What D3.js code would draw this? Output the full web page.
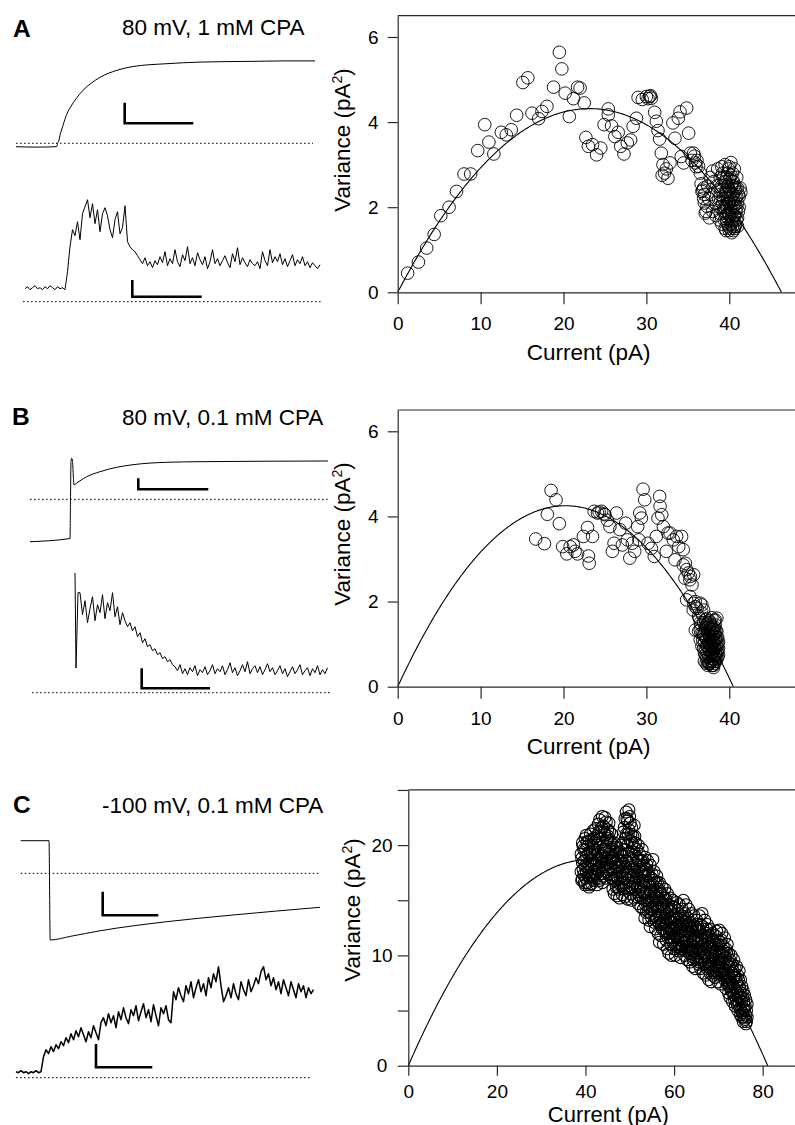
<!DOCTYPE html>
<html><head><meta charset="utf-8">
<script src="https://cdn.jsdelivr.net/npm/d3@7"></script>
<style>body{margin:0;background:#fff}svg{display:block}</style>
</head><body>
<svg id="fig" width="795" height="1125"></svg>
<script>
// ================= DATA =================
const panelLetters = ["A", "B", "C"];
const panelTitles = ["80 mV, 1 mM CPA", "80 mV, 0.1 mM CPA", "-100 mV, 0.1 mM CPA"];
const xTitle = "Current (pA)";
const yTitleMain = "Variance (pA";
const xTicksAB = [0, 10, 20, 30, 40];
const yTicksAB = [0, 2, 4, 6];
const xTicksC = [0, 20, 40, 60, 80];
const yTicksC = [0, 5, 10, 15, 20, 25];
const yTickLabelsC = [0, 10, 20];

// parabolic fits: variance = i*I - I^2/N
const fitA = { i: 0.373, N: 124.1 };
const fitB = { i: 0.420, N: 96.4 };
const fitC = { i: 0.920, N: 88.2 };

// scatter points [current pA, variance pA^2]
const pointsA = [
 [1.2,0.45],[2.5,0.71],[3.5,1.04],[4.4,1.36],[5.2,1.80],[6.2,2.0],[7.1,2.37],[8.0,2.78],[8.8,2.78],[9.65,3.33],
 [10.5,3.94],[11.0,3.53],[11.6,3.25],[12.5,3.76],[13.1,3.70],[13.7,3.82],[14.35,4.16],[15.1,4.93],[15.7,5.04],[16.2,4.21],
 [17.0,4.08],[17.4,4.25],[18.0,4.37],[18.8,4.82],[19.5,5.64],[19.8,5.25],[20.2,4.68],[20.7,4.13],[21.2,4.55],[21.7,4.82],
 [22.0,4.80],[22.5,4.45],[22.7,3.64],[23.0,3.43],[23.5,3.47],[24.0,3.23],[24.5,3.39],[24.9,3.94],[25.4,4.31],[25.4,4.17],
 [25.8,3.91],[26.2,3.66],[26.6,3.76],[26.9,3.43],[27.3,3.25],[27.7,3.51],[28.1,3.58],[28.4,3.90],[28.8,4.09],[29.0,4.58],
 [29.5,4.53],[30.0,4.60],[30.2,4.55],[30.4,4.60],[30.5,4.62],[30.6,4.56],[31.0,4.23],[31.2,4.02],[31.4,3.80],[31.6,3.60],
 [31.8,3.27],[32.0,3.0],[31.9,2.75],[32.2,2.8],[32.4,2.9],[32.6,2.68],[32.85,3.04],[33.2,3.98],[33.45,3.62],[33.85,4.09],
 [34.06,4.24],[34.86,4.33],[35.1,3.74],[34.2,3.19],[34.5,3.04],[35.3,3.27],[35.5,3.1],[35.7,3.27],[35.8,3.2],[35.9,3.04],
 [36.0,2.95],[36.1,3.1],[36.3,2.96],[36.5,2.80],[36.6,2.55],[36.7,2.37],[36.9,2.45],[36.9,2.21],[37.0,2.3],[37.1,1.86],
 [37.3,2.02],[36.8,2.4],[37.0,2.1],[37.2,1.9],[37.4,2.5],[37.5,2.2],[37.6,1.75],[37.7,2.7],[38.0,2.85],
 [37.8,2.3],[38.0,1.9],[38.1,2.6],[38.3,2.1],[38.4,1.8],[38.5,2.5],[38.6,2.9],[38.7,2.2],[38.8,1.7],[38.9,2.7],
 [39.0,2.0],[39.0,2.4],[39.1,1.6],[39.2,2.8],[39.3,2.2],[39.3,1.9],[39.4,2.6],[39.5,1.5],[39.5,3.0],[39.6,2.3],
 [39.6,1.8],[39.7,2.7],[39.7,2.0],[39.8,1.6],[39.8,2.5],[39.9,2.9],[39.9,2.1],[40.0,1.45],[40.0,2.4],[40.0,1.8],
 [40.1,2.7],[40.1,2.2],[40.2,1.6],[40.2,3.05],[40.2,2.0],[40.3,2.5],[40.3,1.4],[40.4,2.8],[40.4,1.9],[40.4,2.3],
 [40.5,1.7],[40.5,2.6],[40.6,2.1],[40.6,1.5],[40.6,2.9],[40.7,2.4],[40.7,1.8],[40.8,2.2],[40.8,1.6],[40.9,2.7],
 [40.9,2.0],[41.0,2.45],[41.0,1.75],[41.1,2.3],[41.2,2.0],[41.3,2.45],[41.4,2.35],[39.4,1.7],[39.9,1.55],[40.3,1.65],
 [39.1,2.5],[39.2,2.1],[39.3,2.7],[39.4,2.0],[39.5,2.35],[39.5,1.9],[39.6,2.6],[39.6,2.05],[39.7,1.65],[39.7,2.4],
 [39.8,2.2],[39.8,2.8],[39.9,1.85],[39.9,2.45],[40.0,2.1],[40.0,2.65],[40.1,1.95],[40.1,1.5],[40.2,2.35],[40.2,2.75],
 [40.3,1.85],[40.3,2.15],[40.4,1.55],[40.4,2.6],[40.5,2.0],[40.5,2.3],[40.6,1.8],[40.6,2.5],[40.7,2.05],[40.7,1.55],
 [40.8,2.45],[40.8,1.9],[40.9,2.25],[40.9,1.7],[41.0,2.1],[41.0,1.55],[41.1,1.9],[41.2,2.25],[38.9,2.3],[38.8,2.0],
 [38.6,2.4],[38.9,1.85],[39.1,2.95],[40.0,2.95],[39.6,1.45],[40.5,1.45]
];

const pointsB = [
 [16.65,3.47],[17.7,3.36],[18.05,4.05],[18.5,4.61],[19.1,4.39],[19.5,3.83],[19.9,3.29],[20.4,3.12],[20.8,3.29],[21.2,3.33],
 [21.4,3.18],[21.7,3.12],[22.4,3.53],[22.9,3.74],[23.0,3.07],[23.1,2.90],[23.5,3.53],[23.7,4.12],[24.1,4.08],[24.3,4.1],
 [24.6,4.12],[24.9,4.06],[25.0,4.04],[25.3,3.91],[25.6,3.76],[25.9,3.18],[26.1,3.37],[26.4,4.08],[26.8,3.69],[27.1,3.33],
 [27.5,3.84],[27.7,3.45],[28.0,3.02],[28.3,3.37],[28.6,3.18],[28.95,3.76],[29.1,3.45],[29.2,4.08],[29.4,3.96],[29.6,4.64],
 [29.8,4.39],[30.2,3.37],[30.6,3.25],[30.95,3.06],[31.2,3.53],[31.4,3.96],[31.6,4.47],[31.65,4.24],[31.85,4.04],[32.05,3.76],
 [32.4,3.18],[32.6,3.61],[32.85,3.61],[33.25,3.45],[33.45,2.98],[33.65,3.53],[33.9,3.29],[34.25,3.53],[34.45,3.22],[34.7,2.90],
 [34.85,2.75],[35.05,2.67],[35.25,2.51],[35.5,2.39],[35.7,2.63],[34.45,2.86],[34.65,2.55],[35.3,2.59],[34.85,2.04],[35.25,2.12],
 [35.7,1.96],[35.9,1.88],[36.1,1.84],[36.3,1.65],[36.5,1.96],[35.9,1.33],[36.7,1.73],[36.9,1.80],[37.1,1.57],[38.3,1.57],
 [35.9,2.0],[36.7,1.92],[35.65,1.80],[38.5,1.61],[36.5,1.33],
 [36.3,1.3],[36.5,1.1],[36.6,1.45],[36.7,0.95],[36.8,1.25],[36.9,1.5],[37.0,1.05],[37.0,0.8],[37.1,1.35],[37.2,1.15],
 [37.2,0.7],[37.3,1.45],[37.3,0.95],[37.4,1.25],[37.4,0.6],[37.5,1.05],[37.5,1.4],[37.6,0.85],[37.6,1.2],[37.7,0.55],
 [37.7,1.0],[37.7,1.5],[37.8,0.75],[37.8,1.3],[37.8,1.1],[37.9,0.6],[37.9,0.95],[37.9,1.4],[38.0,0.5],[38.0,1.2],
 [38.0,0.8],[38.1,1.05],[38.1,0.65],[38.1,1.35],[38.2,0.9],[38.2,0.55],[38.2,1.25],[38.3,0.75],[38.3,1.1],[38.3,1.45],
 [38.4,0.6],[38.4,0.95],[38.4,1.3],[38.5,0.8],[38.5,1.15],[38.6,0.7],[38.6,1.0],[38.7,0.9],[36.9,0.9],[37.1,0.75],
 [37.4,0.5],[37.6,0.55],[37.3,1.6],[37.9,1.62],[38.1,0.45],
 [36.8,1.1],[37.0,1.25],[37.1,0.9],[37.2,1.4],[37.3,0.8],[37.3,1.1],[37.4,0.95],[37.5,0.7],[37.5,1.25],[37.6,1.0],
 [37.6,1.35],[37.7,0.85],[37.7,1.2],[37.8,0.6],[37.8,0.95],[37.8,1.45],[37.9,0.8],[37.9,1.15],[38.0,0.65],[38.0,1.0],
 [38.0,1.35],[38.1,0.85],[38.1,1.2],[38.2,0.7],[38.2,1.05],[38.2,1.4],[38.3,0.6],[38.3,0.9],[38.3,1.25],[38.4,0.75],
 [38.4,1.1],[38.5,0.65],[38.5,0.95],[38.5,1.3],[38.6,0.85],[38.6,1.15],[38.7,0.75],[38.7,1.05],[37.0,0.6],[37.2,0.55],
 [37.5,0.55],[37.9,0.5],[38.1,0.5],[37.4,1.5],[37.6,1.55],[38.2,1.55],[36.9,1.2],[36.6,1.25],[36.5,1.5],[36.4,1.6]
];

// panel C: [current, [variances...]]
const pointsC = [
 [39.0,[17.6,19.2]],[39.3,[18.4,20.2,16.9]],[39.6,[19.6,17.3]],[39.9,[20.6,18.1,16.4]],[40.2,[19.0,17.5,20.9]],
 [40.5,[18.3,16.6,19.9]],[40.8,[20.4,17.9,16.2]],[41.1,[19.3,21.0,17.0]],[41.4,[18.6,16.5,20.1]],[41.7,[19.8,17.6,21.3]],
 [42.0,[18.2,16.8,20.6]],[42.3,[21.5,19.1,17.3]],[42.6,[20.0,16.4,18.6]],[42.9,[21.9,19.4,17.8]],[43.2,[22.3,20.6,18.0,16.8]],
 [43.5,[21.2,19.0,17.4]],[43.8,[22.6,20.3,18.5,16.6]],[44.1,[21.7,19.6,17.2]],[44.4,[22.5,20.9,18.8]],[44.7,[22.1,19.9,17.6]],
 [45.0,[21.4,18.4,20.6]],[45.3,[22.0,19.2,17.4]],[45.6,[20.4,18.0]],[45.9,[21.0,19.1,17.3]],[46.2,[19.6,17.8,16.0]],
 [46.5,[20.2,18.4,15.6]],[46.8,[19.4,16.8,18.0]],[47.1,[17.2,19.8,15.4]],[47.4,[18.6,16.2]],[47.7,[19.3,17.5,15.2]],
 [48.0,[18.1,16.4,20.0]],[48.3,[19.0,15.5,17.2]],[48.6,[21.2,18.3,16.0]],[48.9,[22.4,19.6,17.0,15.3]],[49.2,[23.0,21.0,18.6,16.2]],
 [49.5,[22.2,20.0,17.6,15.1]],[49.8,[23.2,21.4,19.2,16.8]],[50.1,[22.0,20.4,18.0,15.6]],[50.4,[21.6,19.4,17.3,15.0]],[50.7,[20.8,18.6,16.4]],
 [51.0,[21.8,19.8,17.8,15.2]],[51.3,[20.2,18.2,16.0]],[51.6,[19.6,17.4,15.3]],[51.9,[20.0,18.6,16.6,14.7]],[52.2,[19.2,17.0,15.4]],
 [52.5,[18.6,16.2,14.4]],[52.8,[19.6,17.6,15.8]],[53.1,[18.2,16.4,14.2]],[53.4,[18.9,17.2,15.0,13.4]],[53.7,[17.8,15.8,13.9]],
 [54.0,[18.6,16.6,14.6]],[54.3,[17.4,15.4,13.2]],[54.6,[18.2,16.2,14.2,12.6]],[54.9,[17.0,15.0,13.4]],[55.2,[18.7,16.4,14.4]],
 [55.5,[17.6,15.6,13.0]],[55.8,[16.6,14.6,12.4]],[56.1,[17.2,15.2,13.4]],[56.4,[16.0,14.0,12.0]],[56.7,[16.6,14.8,12.8,11.2]],
 [57.0,[15.6,13.6,11.8]],[57.3,[16.2,14.4,12.4]],[57.6,[15.2,13.2,11.0]],[57.9,[16.0,14.0,12.2]],[58.2,[15.0,13.0,11.4]],
 [58.5,[15.6,13.8,12.0,10.6]],[58.8,[14.6,12.6,10.2]],[59.1,[15.2,13.4,11.6]],[59.4,[14.2,12.2,10.0]],[59.7,[15.0,13.0,11.2]],
 [60.0,[14.4,12.4,10.6]],[60.3,[13.6,11.8,10.0]],[60.6,[14.8,12.8,11.0]],[60.9,[13.8,12.0,10.4]],[61.2,[14.6,12.6,10.8]],
 [61.5,[13.4,11.4,9.8]],[61.8,[14.2,12.2,10.6]],[62.1,[15.0,13.0,11.2]],[62.4,[13.8,11.8,10.0]],[62.7,[14.6,12.6,10.8]],
 [63.0,[13.4,11.4,9.6]],[63.3,[14.2,12.2,10.4]],[63.6,[13.0,11.0,9.4]],[63.9,[13.8,11.8,10.2]],[64.2,[12.6,10.6,9.0]],
 [64.5,[13.6,11.6,9.8]],[64.8,[12.4,10.4,8.8]],[65.1,[13.2,11.2,9.6]],[65.4,[12.2,10.2]],[65.7,[13.6,11.8,9.4]],
 [66.0,[12.8,10.8,8.8]],[66.3,[13.8,11.4,9.6]],[66.6,[12.4,10.2,8.4]],[66.9,[13.2,11.0,9.2]],[67.2,[12.0,10.0,8.2]],
 [67.5,[12.8,10.8,8.8]],[67.8,[11.6,9.6,7.8]],[68.1,[12.4,10.4,8.4]],[68.4,[11.2,9.2,7.6]],[68.7,[12.0,10.0,8.2]],
 [69.0,[11.0,9.0]],[69.3,[11.8,9.8,8.0]],[69.6,[12.2,10.4,8.6]],[69.9,[11.4,9.4,7.6]],[70.2,[12.3,10.2,8.4]],
 [70.5,[11.2,9.2,7.4]],[70.8,[12.0,10.0,8.2]],[71.1,[10.8,8.8]],[71.4,[11.6,9.6,7.8]],[71.7,[10.6,8.6,7.0]],
 [72.0,[11.0,9.2,7.4]],[72.3,[10.2,8.2,6.6]],[72.6,[9.6,7.8,6.2]],[72.9,[10.0,8.4,6.8]],[73.2,[9.2,7.4,5.8]],
 [73.5,[9.6,8.0,6.4]],[73.8,[8.8,7.0,5.4]],[74.1,[9.0,7.6,6.0]],[74.4,[8.2,6.6,5.0]],[74.7,[8.6,7.2,5.6]],
 [75.0,[7.8,6.2,4.6]],[75.3,[7.2,5.8,4.4]],[75.6,[6.8,5.2,4.0]],[75.9,[6.4,5.0]],[76.2,[6.0,4.6,3.8]],[76.5,[5.6,4.4]]
];
const pointsC2 = [
 [39.15,[18.8,16.8]],[39.45,[17.8,19.9]],[39.75,[18.6,16.6]],[40.05,[19.6,17.0]],[40.35,[18.0,20.3]],[40.65,[19.2,17.2]],
 [40.95,[18.6,16.4]],[41.25,[20.4,17.8]],[41.55,[19.4,17.2]],[41.85,[18.4,20.6]],[42.15,[19.6,17.6]],[42.45,[18.2,20.8]],
 [42.75,[17.2,19.2]],[43.05,[21.2,18.6]],[43.35,[19.8,17.0]],[43.65,[21.6,18.8]],[43.95,[19.0,17.4]],[44.25,[21.2,18.2]],
 [44.55,[19.6,17.0]],[44.85,[20.4,18.4]],[45.15,[20.8,17.8]],[45.45,[19.6,21.2]],[45.75,[18.6,20.2]],[46.05,[18.8,17.0]],
 [46.35,[19.0,16.8]],[46.65,[17.6,19.8]],[46.95,[18.4,16.2]],[47.25,[19.2,17.0]],[47.55,[18.0,16.0]],[47.85,[17.0,19.4]],
 [48.15,[18.6,16.6]],[48.45,[20.2,17.8]],[48.75,[21.6,16.6]],[49.05,[20.6,18.0]],[49.35,[22.4,17.4]],[49.65,[21.0,18.4]],
 [49.95,[22.6,16.0]],[50.25,[21.0,18.8]],[50.55,[20.2,16.2]],[50.85,[19.4,17.2]],[51.15,[20.8,16.6]],[51.45,[19.0,17.0]],
 [51.75,[18.8,16.2]],[52.05,[17.8,15.8]],[52.35,[18.2,16.0]],[52.65,[17.4,15.2]],[52.95,[18.6,16.8]],[53.25,[17.6,15.6]],
 [53.55,[16.6,14.6]],[53.85,[18.2,15.0]],[54.15,[17.2,14.0]],[54.45,[16.6,14.8]],[54.75,[15.8,13.8]],[55.05,[17.4,14.2]],
 [55.35,[16.8,15.0]],[55.65,[15.4,13.6]],[55.95,[15.8,13.2]],[56.25,[16.6,14.4]],[56.55,[15.2,13.0]],[56.85,[15.8,13.4]],
 [57.15,[14.6,12.8]],[57.45,[15.4,13.0]],[57.75,[14.2,12.4]],[58.05,[15.2,12.8]],[58.35,[14.4,12.2]],[58.65,[13.2,11.6]],
 [58.95,[14.0,12.0]],[59.25,[13.0,11.0]],[59.55,[14.4,12.4]],[59.85,[13.4,11.6]],[60.15,[13.2,11.4]],[60.45,[12.6,10.8]],
 [60.75,[13.4,11.6]],[61.05,[13.0,11.2]],[61.35,[12.4,10.6]],[61.65,[13.2,11.0]],[61.95,[12.8,10.8]],[62.25,[13.4,11.6]],
 [62.55,[12.2,10.4]],[62.85,[13.0,11.2]],[63.15,[12.8,10.8]],[63.45,[12.0,10.2]],[63.75,[12.6,10.6]],[64.05,[12.2,10.4]],
 [64.35,[11.4,9.6]],[64.65,[12.6,10.8]],[64.95,[11.8,10.0]],[65.25,[12.8,10.6]],[65.55,[11.0,9.2]],[65.85,[12.2,10.4]],
 [66.15,[11.6,9.8]],[66.45,[12.6,10.6]],[66.75,[11.8,9.8]],[67.05,[11.6,9.4]],[67.35,[12.4,9.2]],[67.65,[11.2,9.0]],
 [67.95,[11.8,9.4]],[68.25,[10.8,8.8]],[68.55,[11.4,9.6]],[68.85,[10.6,8.6]],[69.15,[10.2,8.4]],[69.45,[11.0,9.0]],
 [69.75,[10.6,8.8]],[70.05,[11.0,9.0]],[70.35,[10.4,8.6]],[70.65,[11.4,9.6]],[70.95,[10.2,8.4]],[71.25,[10.4,8.4]],
 [71.55,[9.8,8.0]],[71.85,[10.2,8.0]],[72.15,[9.4,7.6]],[72.45,[9.0,7.2]],[72.75,[9.2,7.4]],[73.05,[8.4,6.8]],
 [73.35,[8.6,6.6]],[73.65,[8.2,6.0]],[73.95,[8.0,6.6]],[74.25,[7.4,5.6]],[74.55,[7.8,6.2]],[74.85,[7.0,5.2]],
 [75.15,[6.6,5.0]],[75.45,[6.2,4.8]],[75.75,[5.8,4.4]],[76.05,[5.4,4.2]],[76.35,[5.0,4.0]]
];

// current traces (time in ms-like units, amplitude relative to zero-current dotted line)
const traceA1 = [[0,-3.4],[20,-3.8],[40,-3.4],[41,-3.0],[41.5,0.5],[42.5,1.5],[44,8],[47,18],[50.7,29],[55,37],[60,44.5],
 [67,53],[75,60],[84,66],[101,73],[117,76.8],[151,79.6],[184,81.2],[240,82],[270,82.4],[299,82.4]];
const traceA2 = [13,15,12,14,16,13,14,12,15,13,16,14,12,15,13,14,12,
 30,55,72,66,
 80,62,88,95,102,84,98,78,92,70,88,94,86,72,64,82,90,68,74,96,
 60,55,52,50,46,
 42,38,44,36,40,34,41,37,45,39,50,36,43,38,52,40,35,47,41,55,38,44,36,49,42,37,45,33,40,52,38,43,36,41,46,39,34,48,40,54,
 37,44,39,35,42,38,36,40,33,50,41,36,52,39,45,40,48,37,43,35,41,47,36,42,38,45,36,40,34,39,36,33,37];
const traceB1 = [[0,-42.4],[40,-39.2],[40.5,0],[41,38],[41.7,41],[42.5,38],[43.5,20],[44,14.5],[47,16.5],[50,18.5],
 [56.7,22.6],[70,27.6],[86.7,32],[103,34.6],[136.7,37],[170,37.6],[298,38.3]];
const traceB2Spike = [[0,119.7],[1,24.7],[3,100]];
const traceB2 = [100,78,92,70,84,96,72,88,80,98,74,90,82,100,76,86,68,80,72,66,
 70,62,66,56,60,50,54,46,48,42,44,38,40,34,36,31,33,28,
 26,22,28,19,24,18,25,21,27,17,23,20,26,18,22,28,19,24,21,27,18,23,30,20,25,17,22,28,21,31,19,24,27,20,26,18,23,29,21,25,
 18,22,27,19,24,16,21,26,19,23,28,18,22,25,17,24,20,27,18,23,19,25];
const traceC1 = [[0,32.6],[28.3,32.6],[29.5,-66.7],[50,-63],[79.3,-57.5],[146,-48.4],[212.3,-41.7],[299.3,-34]];
const traceC2 = [6,5,7,5,6,4,6,5,7,5,6,
 21,28,24,31,26,33, 29,36,32,40,35,44, 38,47,41,50,43,36, 46,40,52,45,38,55, 60,52,64,55,62,50, 66,58,70,60,54,68,
 62,72,57,66,74,60, 68,56,73,62,52,70, 64,72,58,55, 86,78,90,82,76,92, 84,96,80,90,98,86, 94,82,100,90,104,96,
 111,92,76,82, 90,80,94,84,78,96, 88,82,98,86,92,100, 94,106,111,98,104,92, 100,88,96,84,98,90, 82,96,88,80,94,86,
 92,80,90,84,88];

// ================= DRAW =================
const FONT = "'Liberation Sans', Arial, Helvetica, sans-serif";
const svg = d3.select("#fig");
const AX = "#2a2a2a";

function fitCurve(f) {
  const root = f.i * f.N;
  return d3.range(0, root, root / 300).concat([root]).map(I => [I, f.i * I - I * I / f.N]);
}
const flatC = pointsC.concat(pointsC2).flatMap(([x, ys]) => ys.map(y => [x, y]));

const scatterCfg = [
  { pts: pointsA, fit: fitA, xd: [0, 48], xr: [397.7, 795.6], yd: [0, 6.5], yr: [292.3, 15.7],
    xt: xTicksAB, yt: yTicksAB, yl: yTicksAB, ytl: 10, xtl: 12, ylx: 373.3, xlt: 316.7, r: 6.3, sw: 0.9,
    yT: [350.3, 140], xT: [588.7, 359.5, 22.5] },
  { pts: pointsB, fit: fitB, xd: [0, 48], xr: [397.7, 795.6], yd: [0, 6.5], yr: [686.7, 410],
    xt: xTicksAB, yt: yTicksAB, yl: yTicksAB, ytl: 10, xtl: 12, ylx: 373.3, xlt: 711.7, r: 6.3, sw: 0.9,
    yT: [350.3, 534], xT: [588.7, 753.8, 22.5] },
  { pts: flatC, fit: fitC, xd: [0, 88], xr: [408.3, 798.1], yd: [0, 25], yr: [1065.7, 789.95],
    xt: xTicksC, yt: yTicksC, yl: yTickLabelsC, ytl: 10.6, xtl: 10, ylx: 382, xlt: 1084.3, r: 6, sw: 1.05,
    yT: [360.3, 910], xT: [608.3, 1121.5, 22] }
];

scatterCfg.forEach(c => {
  const g = svg.append("g");
  const x = d3.scaleLinear().domain(c.xd).range(c.xr);
  const y = d3.scaleLinear().domain(c.yd).range(c.yr);
  const x0 = c.xr[0], yb = c.yr[0], yt = c.yr[1];

  g.append("path").datum(fitCurve(c.fit))
    .attr("d", d3.line().x(d => x(d[0])).y(d => y(d[1])))
    .attr("fill", "none").attr("stroke", "#000").attr("stroke-width", 1.1);

  g.append("g").selectAll("circle").data(c.pts).join("circle")
    .attr("cx", d => x(d[0])).attr("cy", d => y(d[1])).attr("r", c.r)
    .attr("fill", "none").attr("stroke", "#000").attr("stroke-width", c.sw);

  g.append("line").attr("x1", x0).attr("x2", 795.6).attr("y1", yt).attr("y2", yt)
    .attr("stroke", AX).attr("stroke-width", 1.2);

  const ya = g.append("g").attr("transform", `translate(${x0},0)`)
    .call(d3.axisLeft(y).tickValues(c.yt).tickSize(c.ytl).tickSizeOuter(0)
      .tickFormat(d => c.yl.includes(d) ? d : ""));
  const xa = g.append("g").attr("transform", `translate(0,${yb})`)
    .call(d3.axisBottom(x).tickValues(c.xt).tickSize(c.xtl).tickSizeOuter(0));
  [ya, xa].forEach(a => {
    a.attr("font-family", FONT).attr("font-size", 19);
    a.select(".domain").attr("stroke", AX).attr("stroke-width", 1.2);
    a.selectAll(".tick line").attr("stroke", AX).attr("stroke-width", 1.2);
    a.selectAll(".tick text").attr("fill", "#000");
  });
  ya.selectAll(".tick text").attr("x", c.ylx - x0).attr("text-anchor", "middle");
  xa.selectAll(".tick text").attr("y", c.xlt - yb);

  g.append("text").attr("x", c.xT[0]).attr("y", c.xT[1]).attr("text-anchor", "middle")
    .attr("font-family", FONT).attr("font-size", c.xT[2]).text(xTitle);
  const yl = g.append("text").attr("transform", `translate(${c.yT[0]},${c.yT[1]}) rotate(-90)`)
    .attr("text-anchor", "middle").attr("font-family", FONT).attr("font-size", 22.5);
  yl.append("tspan").text(yTitleMain);
  yl.append("tspan").attr("font-size", 14).attr("dy", -8).text("2");
  yl.append("tspan").attr("dy", 8).text(")");
});

// ---- traces ----
function drawPairs(data, tr, base) {
  const x = d3.scaleLinear().domain([0, tr.tMax]).range([tr.x0, tr.x1]);
  const y = d3.scaleLinear().domain([0, 100]).range([base, base - 100]);
  svg.append("path").datum(data)
    .attr("d", d3.line().x(d => x(d[0])).y(d => y(d[1])).curve(tr.smooth ? d3.curveMonotoneX : d3.curveLinear))
    .attr("fill", "none").attr("stroke", "#000").attr("stroke-width", tr.w || 1);
}
function drawSeries(vals, x0, x1, base, w) {
  const x = d3.scaleLinear().domain([0, vals.length - 1]).range([x0, x1]);
  const y = d3.scaleLinear().domain([0, 100]).range([base, base - 100]);
  svg.append("path").datum(vals)
    .attr("d", d3.line().x((d, i) => x(i)).y(d => y(d)))
    .attr("fill", "none").attr("stroke", "#000").attr("stroke-width", w || 1).attr("stroke-linejoin", "round");
}
function dotted(y, xa, xb) {
  svg.append("line").attr("x1", xa).attr("x2", xb).attr("y1", y).attr("y2", y)
    .attr("stroke", "#000").attr("stroke-width", 1).attr("stroke-dasharray", "1.6,2.4");
}
function scaleBar(x, yTop, yBot, xEnd) {
  svg.append("path").attr("d", `M${x},${yTop}V${yBot}H${xEnd}`)
    .attr("fill", "none").attr("stroke", "#000").attr("stroke-width", 2.6).attr("stroke-linecap", "butt");
}

// A
dotted(143.3, 16, 313);
drawPairs(traceA1, { tMax: 299, x0: 16, x1: 315, smooth: true }, 143.3);
scaleBar(124.7, 102.7, 123.3, 193.3);
dotted(301.7, 23, 322);
drawSeries(traceA2, 25, 320, 301.7, 1);
scaleBar(132.3, 280, 296.7, 201.7);
// B
dotted(499.3, 30, 328);
drawPairs(traceB1, { tMax: 298, x0: 30, x1: 328, smooth: true }, 499.3);
scaleBar(138.3, 478.3, 489.3, 208.3);
dotted(692.7, 32, 330);
drawPairs(traceB2Spike.concat([[5, traceB2[0]]]), { tMax: 100, x0: 75, x1: 175 }, 692.7);
drawSeries(traceB2, 80, 80 + (traceB2.length - 1) * 2.5, 692.7, 1);
scaleBar(141.7, 668.3, 688.3, 210);
// C
dotted(873.3, 20.7, 320);
drawPairs(traceC1, { tMax: 299.3, x0: 20.7, x1: 320, smooth: true }, 873.3);
scaleBar(102.7, 891.7, 915.3, 158.3);
dotted(1077.7, 16, 312);
drawSeries(traceC2, 16, 16 + (traceC2.length - 1) * 2.5, 1077.7, 1.5);
scaleBar(96, 1044, 1067.3, 152.3);

// panel letters & titles
const letterPos = [[13, 36.7], [12, 425], [13, 813.3]];
const titlePos = [[122, 35], [122, 425], [102, 813.3]];
panelLetters.forEach((L, k) => {
  svg.append("text").attr("x", letterPos[k][0]).attr("y", letterPos[k][1])
    .attr("font-family", FONT).attr("font-weight", "bold").attr("font-size", 24.5).text(L);
  svg.append("text").attr("x", titlePos[k][0]).attr("y", titlePos[k][1])
    .attr("font-family", FONT).attr("font-size", 22.5).text(panelTitles[k]);
});
</script>
</body></html>
